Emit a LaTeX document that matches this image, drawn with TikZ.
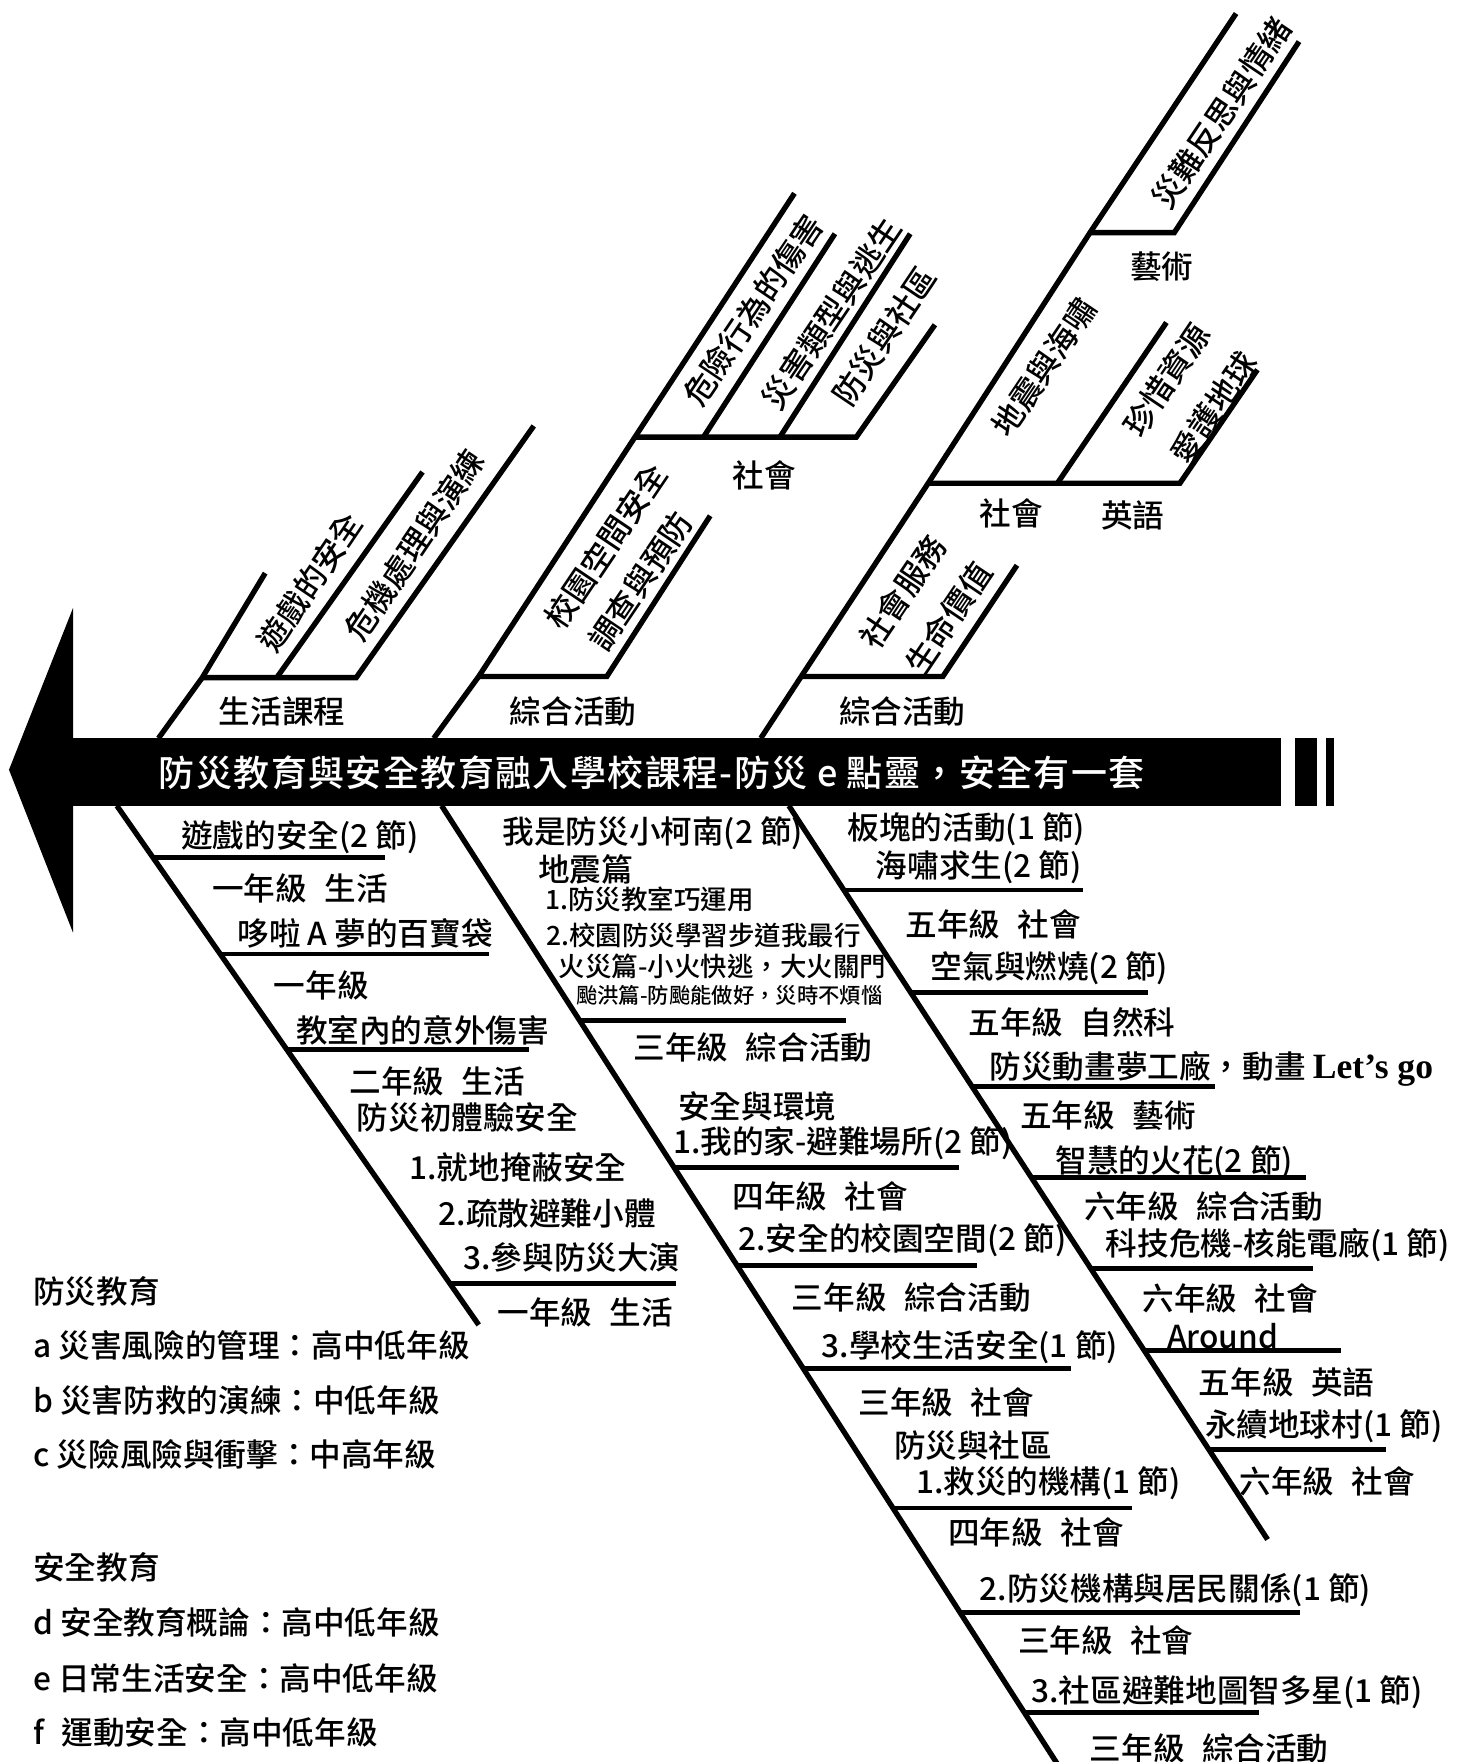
\documentclass[tikz,border=0pt]{standalone}
\usepackage{fontspec}
\setmainfont{Noto Sans CJK TC Medium}
\newfontfamily\titlefont{Noto Sans CJK TC Medium}[LetterSpace=4]
\newfontfamily\romanfont{Liberation Serif}
\newcommand{\gap}{\hspace{0.55em}}

\begin{document}
\begin{tikzpicture}[x=0.01cm, y=-0.01cm,
		bone/.style={line width=1.35pt},
		rung/.style={line width=1.2pt},
		lab/.style={inner sep=0pt, font=\fontsize{8pt}{9pt}\selectfont},
		tilt/.style={lab, rotate=56},
		small/.style={inner sep=0pt, font=\fontsize{6.7pt}{7pt}\selectfont},
		tiny/.style={inner sep=0pt, font=\fontsize{5.4pt}{6pt}\selectfont},
		key/.style={lab, anchor=west}]

	\useasboundingbox (0,0) rectangle (1305,1568);

	% =============================================
	%  SPINE
	% =============================================

	\fill (65,657) rectangle (1140,717);
	\fill (65,541) -- (8,685) -- (65,830) -- cycle;
	\fill (1152,657) rectangle (1172,717);
	\fill (1180,657) rectangle (1187,717);
	\node[text=white, inner sep=0pt, font=\titlefont\fontsize{9.1pt}{10pt}\selectfont]
	(title) at (580,688) {防災教育與安全教育融入學校課程-防災 e 點靈，安全有一套};

	% =============================================
	%  UPPER BONES
	% =============================================

	% --- 生活課程 ---
	\coordinate (u1a) at (141,657);
	\coordinate (u1b) at (180,603);
	\draw[bone] (u1a) -- (u1b) -- (236,510);
	\draw[bone] (u1b) -- (317,603) -- (475,379);
	\draw[bone] (247,602) -- (376,420);

	% --- 綜合活動 / 社會 ---
	\coordinate (u2a) at (386,657);
	\coordinate (u2b) at (426,602);
	\coordinate (u2c) at (565,389);
	\draw[bone] (u2a) -- (u2b) -- (u2c) -- (707,172);
	\draw[bone] (u2b) -- (540,602) -- (632,459);
	\draw[bone] (u2c) -- (762,389) -- (832,289);
	\draw[bone] (626,389) -- (743,208);
	\draw[bone] (694,389) -- (810,208);

	% --- 綜合活動 / 社會 / 英語 / 藝術 ---
	\coordinate (u3a) at (677,657);
	\coordinate (u3b) at (713,602);
	\coordinate (u3c) at (826,430);
	\coordinate (u3d) at (970,207);
	\draw[bone] (u3a) -- (u3b) -- (u3c) -- (u3d) -- (1100,12);
	\draw[bone] (u3b) -- (839,602) -- (905,503);
	\draw[bone] (u3c) -- (1050,430) -- (1119,329);
	\draw[bone] (941,430) -- (1038,287);
	\draw[bone] (u3d) -- (1045,207) -- (1156,37);

	% --- upper labels ---
	\node[lab] (shenghuo) at (251,633) {生活課程};
	\node[lab] (zonghe1) at (510,633) {綜合活動};
	\node[lab] (zonghe2) at (803,633) {綜合活動};
	\node[lab] (shehui1) at (680,423) {社會};
	\node[lab] (shehui2) at (900,457) {社會};
	\node[lab] (yingyu) at (1008,459) {英語};
	\node[lab] (yishu) at (1034,237) {藝術};

	\node[tilt] (youxi) at (276,518) {遊戲的安全};
	\node[tilt] (weiji) at (369,485) {危機處理與演練};
	\node[tilt] (xiaoyuan) at (539,486) {校園空間安全};
	\node[tilt] (diaocha) at (570,517) {調查與預防};
	\node[tilt] (weixian) at (670,276) {危險行為的傷害};
	\node[tilt] (zaihai) at (740,279) {災害類型與逃生};
	\node[tilt] (fangzai) at (787,299) {防災與社區};
	\node[tilt] (fuwu) at (803,527) {社會服務};
	\node[tilt] (jiazhi) at (844,550) {生命價值};
	\node[tilt] (dizhen) at (929,327) {地震與海嘯};
	\node[tilt] (fansi) at (1087,101) {災難反思與情緒};
	\node[tilt] (zhenxi) at (1038,338) {珍惜資源};
	\node[tilt] (aihu) at (1080,363) {愛護地球};

	% =============================================
	%  LOWER BONES
	% =============================================

	\coordinate (bA1) at (104,717);
	\coordinate (bA2) at (426,1179);
	\coordinate (bB1) at (393,717);
	\coordinate (bB2) at (945,1576);
	\coordinate (bC1) at (702,717);
	\coordinate (bC2) at (1128,1370);
	\draw[bone] (bA1) -- (bA2);
	\draw[bone] (bB1) -- (bB2);
	\draw[bone] (bC1) -- (bC2);

	% --- rungs, start computed on the bone ---
	\foreach \yy/\xe in {763/343, 849/435, 934/471, 1142/602} {
			\pgfmathsetmacro{\xs}{104 + (\yy-717)/(1179-717)*(426-104)}
			\draw[rung] (\xs,\yy) -- (\xe,\yy);
		}
	\foreach \yy/\xe in {908/753, 1039/853, 1126/869, 1218/953, 1342/1007, 1435/1157, 1524/1120} {
			\pgfmathsetmacro{\xs}{393 + (\yy-717)/(1576-717)*(945-393)}
			\draw[rung] (\xs,\yy) -- (\xe,\yy);
		}
	\foreach \yy/\xe in {792/964, 883/1022, 967/1081, 1048/1162, 1129/1168, 1202/1193, 1290/1233} {
			\pgfmathsetmacro{\xs}{702 + (\yy-717)/(1370-717)*(1128-702)}
			\draw[rung] (\xs,\yy) -- (\xe,\yy);
		}

	% --- bone A ---
	\node[lab] (a1) at (267,745) {遊戲的安全(2 節)};
	\node[lab] (a2) at (267,791) {一年級\gap 生活};
	\node[lab] (a3) at (325,831) {哆啦 A 夢的百寶袋};
	\node[lab] (a4) at (286,877) {一年級};
	\node[lab] (a5) at (376,917) {教室內的意外傷害};
	\node[lab] (a6) at (389,962) {二年級\gap 生活};
	\node[lab] (a7) at (416,994) {防災初體驗安全};
	\node[lab] (a8) at (461,1039) {1.就地掩蔽安全};
	\node[lab] (a9) at (487,1080) {2.疏散避難小體};
	\node[lab] (a10) at (509,1119) {3.參與防災大演};
	\node[lab] (a11) at (521,1168) {一年級\gap 生活};

	% --- bone B ---
	\node[lab] (b1) at (581,741) {我是防災小柯南(2 節)};
	\node[lab] (b2) at (521,774) {地震篇};
	\node[small] (b3) at (578,800) {1.防災教室巧運用};
	\node[small] (b4) at (626,832) {2.校園防災學習步道我最行};
	\node[small] (b5) at (643,860) {火災篇-小火快逃，大火關門};
	\node[tiny] (b6) at (649,886) {颱洪篇-防颱能做好，災時不煩惱};
	\node[lab] (b7) at (670,932) {三年級\gap 綜合活動};
	\node[lab] (b8) at (674,985) {安全與環境};
	\node[lab] (b9) at (750,1017) {1.我的家-避難場所(2 節)};
	\node[lab] (b10) at (730,1065) {四年級\gap 社會};
	\node[lab] (b11) at (803,1104) {2.安全的校園空間(2 節)};
	\node[lab] (b12) at (811,1155) {三年級\gap 綜合活動};
	\node[lab] (b13) at (863,1199) {3.學校生活安全(1 節)};
	\node[lab] (b14) at (842,1248) {三年級\gap 社會};
	\node[lab] (b15) at (866,1286) {防災與社區};
	\node[lab] (b16) at (933,1320) {1.救災的機構(1 節)};
	\node[lab] (b17) at (922,1364) {四年級\gap 社會};
	\node[lab] (b18) at (1046,1415) {2.防災機構與居民關係(1 節)};
	\node[lab] (b19) at (984,1460) {三年級\gap 社會};
	\node[lab] (b20) at (1092,1506) {3.社區避難地圖智多星(1 節)};
	\node[lab] (b21) at (1076,1556) {三年級\gap 綜合活動};

	% --- bone C ---
	\node[lab] (c1) at (860,738) {板塊的活動(1 節)};
	\node[lab] (c2) at (871,772) {海嘯求生(2 節)};
	\node[lab] (c3) at (884,823) {五年級\gap 社會};
	\node[lab] (c4) at (934,862) {空氣與燃燒(2 節)};
	\node[lab] (c5) at (954,910) {五年級\gap 自然科};
	\node[lab, anchor=west] (c6) at (880,951) {防災動畫夢工廠，動畫 {\romanfont\bfseries\fontsize{9pt}{10pt}\selectfont Let’s go}};
	\node[lab] (c7) at (986,993) {五年級\gap 藝術};
	\node[lab] (c8) at (1045,1034) {智慧的火花(2 節)};
	\node[lab] (c9) at (1071,1074) {六年級\gap 綜合活動};
	\node[lab] (c10) at (1137,1108) {科技危機-核能電廠(1 節)};
	\node[lab] (c11) at (1095,1155) {六年級\gap 社會};
	\node[lab] (c12) at (1088,1189) {Around};
	\node[lab] (c13) at (1145,1230) {五年級\gap 英語};
	\node[lab] (c14) at (1178,1269) {永續地球村(1 節)};
	\node[lab] (c15) at (1181,1318) {六年級\gap 社會};

	% =============================================
	%  KEY (bottom left)
	% =============================================

	\node[key] (k1) at (29,1149) {防災教育};
	\node[key] (k2) at (29,1197) {a 災害風險的管理：高中低年級};
	\node[key] (k3) at (29,1246) {b 災害防救的演練：中低年級};
	\node[key] (k4) at (29,1294) {c 災險風險與衝擊：中高年級};
	\node[key] (k5) at (29,1395) {安全教育};
	\node[key] (k6) at (29,1444) {d 安全教育概論：高中低年級};
	\node[key] (k7) at (29,1494) {e 日常生活安全：高中低年級};
	\node[key] (k8) at (29,1542) {f\gap 運動安全：高中低年級};

\end{tikzpicture}
\end{document}
